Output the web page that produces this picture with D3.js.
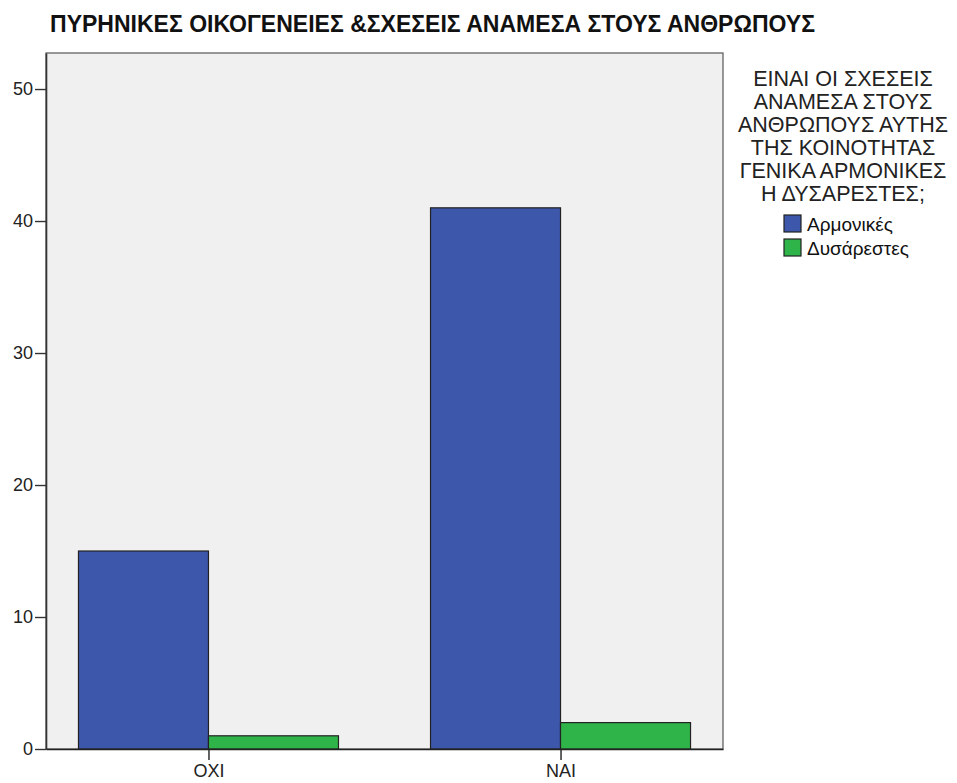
<!DOCTYPE html>
<html>
<head>
<meta charset="utf-8">
<script src="https://cdn.jsdelivr.net/npm/d3@7"></script>
<style>
  body { margin: 0; background: #fff; }
  text { font-family: "Liberation Sans", Arial, sans-serif; }
</style>
</head>
<body>
<div id="chart"></div>
<script>
// data
const categories = ["OXI", "NAI"];
const seriesNames = ["Αρμονικές", "Δυσάρεστες"];
const harmonious = [15, 41];
const unpleasant = [1, 2];
const yTicks = [0, 10, 20, 30, 40, 50];
const legendTitle = ["ΕΙΝΑΙ ΟΙ ΣΧΕΣΕΙΣ", "ΑΝΑΜΕΣΑ ΣΤΟΥΣ", "ΑΝΘΡΩΠΟΥΣ ΑΥΤΗΣ", "ΤΗΣ ΚΟΙΝΟΤΗΤΑΣ", "ΓΕΝΙΚΑ ΑΡΜΟΝΙΚΕΣ", "Η ΔΥΣΑΡΕΣΤΕΣ;"];
const colors = ["#3d57aa", "#2fb44a"];

const width = 957, height = 783;
const plot = {left: 46, right: 723, top: 53, bottom: 749};

const svg = d3.select("#chart").append("svg")
    .attr("width", width)
    .attr("height", height);

svg.append("text")
    .attr("x", 50)
    .attr("y", 32)
    .attr("font-size", 24)
    .attr("font-weight", "bold")
    .attr("font-family", "'Liberation Sans Narrow', 'Liberation Sans', Arial, sans-serif")
    .attr("fill", "#111")
    .attr("textLength", 765)
    .attr("lengthAdjust", "spacingAndGlyphs")
    .text("ΠΥΡΗΝΙΚΕΣ ΟΙΚΟΓΕΝΕΙΕΣ &ΣΧΕΣΕΙΣ ΑΝΑΜΕΣΑ ΣΤΟΥΣ ΑΝΘΡΩΠΟΥΣ");

const x = d3.scalePoint().domain(categories).range([plot.left, plot.right]).padding(0.4615);
const x1 = d3.scaleBand().domain(seriesNames).range([-130, 130]);
const y = d3.scaleLinear().domain([0, 52.73]).range([plot.bottom, plot.top]);

svg.append("rect")
    .attr("x", plot.left)
    .attr("y", plot.top)
    .attr("width", plot.right - plot.left)
    .attr("height", plot.bottom - plot.top)
    .attr("fill", "#f0f0f0")
    .attr("stroke", "#555")
    .attr("stroke-width", 1.2);

const rows = categories.map((c, i) => ({cat: c, vals: [harmonious[i], unpleasant[i]]}));

const groups = svg.selectAll(".grp")
    .data(rows)
    .enter().append("g")
    .attr("class", "grp")
    .attr("transform", d => "translate(" + x(d.cat) + ",0)");

groups.selectAll("rect")
    .data(d => d.vals.map((v, j) => ({name: seriesNames[j], v: v, j: j})))
    .enter().append("rect")
    .attr("x", d => x1(d.name))
    .attr("y", d => y(d.v))
    .attr("width", x1.bandwidth())
    .attr("height", d => y(0) - y(d.v))
    .attr("fill", d => colors[d.j])
    .attr("stroke", "#222")
    .attr("stroke-width", 1.2);

// y axis
const yAxis = svg.append("g")
    .attr("transform", "translate(" + plot.left + ",0)")
    .call(d3.axisLeft(y).tickValues(yTicks).tickSize(11).tickSizeOuter(0).tickPadding(2));
yAxis.select(".domain").attr("stroke", "#333").attr("stroke-width", 1.6);
yAxis.selectAll(".tick line").attr("stroke", "#333").attr("stroke-width", 1.4);
yAxis.selectAll(".tick text").attr("font-size", 18).attr("fill", "#222")
    .attr("font-family", "Liberation Sans, Arial, sans-serif");

// x axis
const xAxis = svg.append("g")
    .attr("transform", "translate(0," + plot.bottom + ")")
    .call(d3.axisBottom(x).tickSize(11).tickSizeOuter(0).tickPadding(4));
xAxis.select(".domain").attr("stroke", "#222").attr("stroke-width", 1.6);
xAxis.selectAll(".tick line").attr("stroke", "#222").attr("stroke-width", 1.4);
xAxis.selectAll(".tick text").attr("font-size", 18).attr("fill", "#222")
    .attr("font-family", "Liberation Sans, Arial, sans-serif");

// legend
const lg = svg.append("g");
lg.selectAll(".lt")
    .data(legendTitle)
    .enter().append("text")
    .attr("x", 843)
    .attr("y", (d, i) => 86 + i * 23)
    .attr("text-anchor", "middle")
    .attr("font-size", 21.5)
    .attr("fill", "#222")
    .text(d => d);

const items = lg.selectAll(".li")
    .data(seriesNames)
    .enter().append("g")
    .attr("transform", (d, i) => "translate(784," + (215 + i * 24) + ")");
items.append("rect")
    .attr("width", 17)
    .attr("height", 17)
    .attr("fill", (d, i) => colors[i])
    .attr("stroke", "#222")
    .attr("stroke-width", 1.2);
items.append("text")
    .attr("x", 23)
    .attr("y", 16)
    .attr("font-size", 19)
    .attr("fill", "#111")
    .text(d => d);
</script>
</body>
</html>
